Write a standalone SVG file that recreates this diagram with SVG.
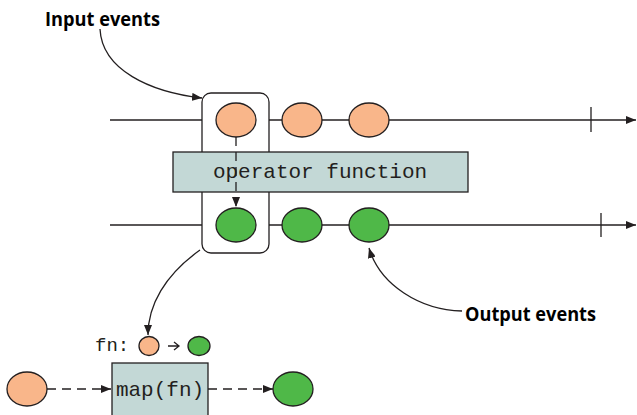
<svg xmlns="http://www.w3.org/2000/svg" width="637" height="415" viewBox="0 0 637 415">
<style>
.ln{stroke:#231f20;stroke-width:1.3;fill:none}
.dash{stroke:#231f20;stroke-width:1.3;fill:none;stroke-dasharray:9 6}
.in{fill:#f9b68a;stroke:#231f20;stroke-width:1.3}
.out{fill:#4fb848;stroke:#231f20;stroke-width:1.3}
.op{fill:#c3d8d6;stroke:#231f20;stroke-width:1.3}
.mono{font-family:"Liberation Mono","Courier New",monospace;fill:#231f20}
.lbl{font-family:"Open Sans","Liberation Sans",sans-serif;font-weight:bold;fill:#000}
</style>
<defs>
<marker id="ah" markerWidth="10" markerHeight="8" refX="10" refY="4" orient="auto" markerUnits="userSpaceOnUse">
<path d="M0,0 L10,4 L0,8 Z" fill="#231f20"/>
</marker>
</defs>
<g id="connectors">
<path class="ln" d="M110,120 H636" marker-end="url(#ah)"/>
<path class="ln" d="M591,107 V132"/>
<path class="ln" d="M110,225 H636" marker-end="url(#ah)"/>
<path class="ln" d="M601,213 V237"/>
<path class="ln" d="M100,29 C102,70 150,92 202,98" marker-end="url(#ah)"/>
<path class="ln" d="M462,311 C420,310 380,285 369,248" marker-end="url(#ah)"/>
<path class="ln" d="M200,250 C165,275 148,305 148,335" marker-end="url(#ah)"/>
<path class="dash" d="M47,389 H111" marker-end="url(#ah)"/>
<path class="dash" d="M208,389 H273" marker-end="url(#ah)"/>
<path class="ln" d="M168,346 H179 M174,342 L179,346 L174,350"/>
</g>
<g id="window"><rect class="ln" x="202" y="93" width="67" height="160" rx="9" style="fill:#fff"/></g>
<g id="in1"><ellipse class="in" cx="236" cy="120" rx="20" ry="17"/></g>
<g id="in2"><ellipse class="in" cx="302" cy="120" rx="20" ry="17"/></g>
<g id="in3"><ellipse class="in" cx="369" cy="120" rx="20" ry="17"/></g>
<g id="operator">
<rect class="op" x="173" y="152" width="295" height="40"/>
<text class="mono" x="320" y="178" font-size="21" text-anchor="middle">operator function</text>
</g>
<g id="out1"><ellipse class="out" cx="236" cy="225" rx="20" ry="17"/></g>
<g id="out2"><ellipse class="out" cx="302" cy="225" rx="20" ry="17"/></g>
<g id="out3"><ellipse class="out" cx="369" cy="225" rx="20" ry="17"/></g>
<g id="transform-arrow"><path class="dash" d="M236,137 V207" marker-end="url(#ah)"/></g>
<g id="input-label"><text class="lbl" x="45" y="26" font-size="20" textLength="115" lengthAdjust="spacingAndGlyphs">Input events</text></g>
<g id="output-label"><text class="lbl" x="465" y="321" font-size="20" textLength="131" lengthAdjust="spacingAndGlyphs">Output events</text></g>
<g id="fn">
<text class="mono" x="95" y="351" font-size="19">fn:</text>
<ellipse class="in" cx="149" cy="346" rx="10" ry="9.5"/>
<ellipse class="out" cx="199" cy="346" rx="11" ry="9.5"/>
</g>
<g id="src"><ellipse class="in" cx="27" cy="389" rx="20" ry="17"/></g>
<g id="map">
<rect class="op" x="112" y="363" width="96" height="60"/>
<text class="mono" x="160" y="396" font-size="21" text-anchor="middle">map(fn)</text>
</g>
<g id="dst"><ellipse class="out" cx="293" cy="389" rx="20" ry="17"/></g>
</svg>
